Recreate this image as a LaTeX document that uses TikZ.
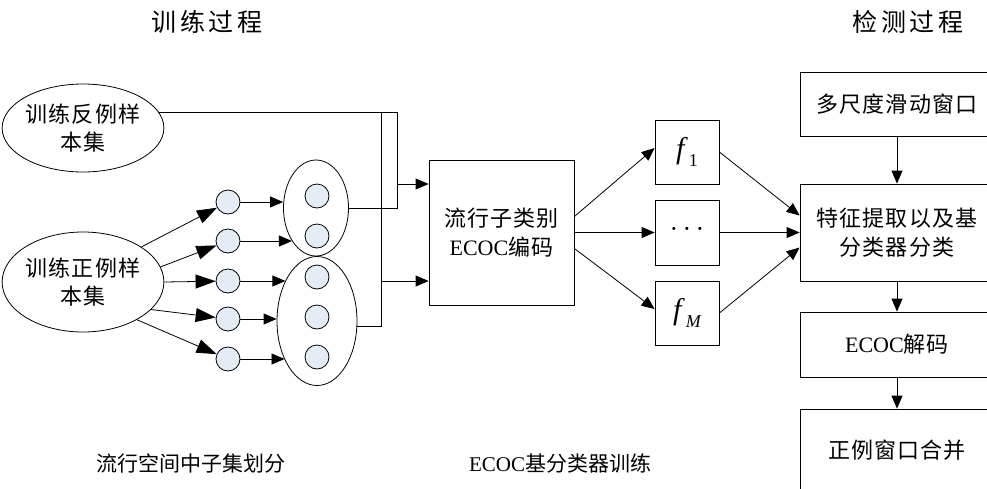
\documentclass[tikz,border=0pt]{standalone}
\usepackage{fontspec}
\setmainfont{Liberation Serif}
\newfontfamily\cjk{Noto Sans CJK SC}[LetterSpace=5]
\newfontfamily\cjktitle{Noto Sans CJK SC}[LetterSpace=15]
\newfontfamily\cjkplain{Noto Sans CJK SC}
\usetikzlibrary{shapes.geometric,arrows.meta,calc}

\tikzset{
  every node/.style={inner sep=0pt, align=center},
  lw/.style={line width=0.8pt},
  arr/.style={lw, -{Triangle[length=13pt,width=11pt]}},
  bigarr/.style={lw, -{Triangle[length=20pt,width=14pt]}},
  setnode/.style={draw, lw, ellipse, font=\cjk\fontsize{22}{28}\selectfont},
  dot/.style={draw, lw, circle, minimum size=24pt, fill=dotfill},
  grp/.style={draw, lw, ellipse},
  blk/.style={draw, lw, rectangle, font=\cjk\fontsize{22}{29}\selectfont},
  fbox/.style={draw, lw, rectangle, minimum width=64pt, font=\rmfamily\fontsize{30}{32}\selectfont},
  title/.style={font=\cjktitle\fontsize{25}{28}\selectfont},
  caption/.style={font=\cjkplain\fontsize{21}{26}\selectfont},
}
\definecolor{dotfill}{HTML}{E6ECF6}
% italic classifier name with subscript
\newcommand{\clsname}[1]{\textit{f}\kern1pt\raisebox{-0.28em}{\fontsize{18}{20}\selectfont #1}}

\begin{document}
\begin{tikzpicture}[x=1pt, y=-1pt]
\useasboundingbox (0,0) rectangle (987,488);
\clip (0,0) rectangle (987,488);

% titles and captions
\node[title] (t1) at (207,22) {训练过程};
\node[title] (t2) at (908,22) {检测过程};
\node[caption] (cap1) at (191,463) {流行空间中子集划分};
\node[caption] (cap2) at (560,463) {{\rmfamily ECOC}基分类器训练};

% training sample sets
\node[setnode, minimum width=145pt, minimum height=88pt] (neg) at (83,128) {训练反例样\\本集};
\node[setnode, minimum width=145pt, minimum height=100pt] (pos) at (83,282) {训练正例样\\本集};

% subsets of the positive samples
\foreach \i/\y in {1/202,2/241,3/281,4/319,5/359}
  \node[dot] (c\i) at (228,\y) {};

% grouped subsets
\node[grp, minimum width=65pt, minimum height=96pt] (g1) at (316,208) {};
\node[dot] (a1) at (317,196) {};
\node[dot] (a2) at (317,236) {};
\node[grp, minimum width=80pt, minimum height=129pt] (g2) at (317,321) {};
\node[dot] (b1) at (317,277) {};
\node[dot] (b2) at (317,317) {};
\node[dot] (b3) at (317,357) {};

% ECOC coding and base classifiers
\node[blk, minimum width=145pt, minimum height=145pt] (ecoc) at (501.5,232.5) {流行子类别\\{\rmfamily ECOC}编码};
\node[fbox, minimum height=64pt] (f1) at (687,152) {\clsname{1}};
\node[fbox, minimum height=65pt] (fd) at (687,232.5) {\fontsize{26}{28}\selectfont ·\,·\,·};
\node[fbox, minimum height=64pt] (fM) at (687,313) {\clsname{\itshape M}};

% detection pipeline
\node[blk, minimum width=194pt, minimum height=64pt] (win) at (897,104) {多尺度滑动窗口};
\node[blk, minimum width=194pt, minimum height=97pt] (feat) at (897,232.5) {特征提取以及基\\分类器分类};
\node[blk, minimum width=194pt, minimum height=65pt] (dec) at (897,344.5) {{\rmfamily ECOC}解码};
\node[blk, minimum width=194pt, minimum height=82pt] (merge) at (897,450) {正例窗口合并};

% positive set split into subsets
\draw[bigarr] (pos.31) -- (c1);
\draw[bigarr] (pos.11) -- (c2);
\draw[bigarr] (pos.east) -- (c3);
\draw[bigarr] (pos.-22) -- (c4);
\draw[bigarr] (pos.-35) -- (c5);

% subsets into groups
\draw[arr] (c1.east) -- (c1 -| g1.west);
\draw[arr] (c2.east) -- (c2 -| g1.234);
\draw[arr] (c3.east) -- (c3 -| g2.128);
\draw[arr] (c4.east) -- (c4 -| g2.west);
\draw[arr] (c5.east) -- (c5 -| g2.230);

% merging lines into the ECOC block
\coordinate (jA) at (397,208);
\coordinate (jB) at (381,113);
\coordinate (jC) at (397,184);
\coordinate (jD) at (381,281);
\draw[lw] (neg.12) -| (jA) -- (g1.east);
\draw[lw] (g2.-8) -| (jB);
\draw[arr] (jC) -- (jC -| ecoc.west);
\draw[arr] (jD) -- (jD -| ecoc.west);

% ECOC block to base classifiers
\draw[arr] ([yshift=16pt]ecoc.east) -- ([yshift=4pt]f1.west);
\draw[arr] (ecoc.east) -- (fd.west);
\draw[arr] ([yshift=-16pt]ecoc.east) -- ([yshift=4pt]fM.west);

% base classifiers to detection
\draw[arr] (f1.east) -- ([yshift=17pt]feat.west);
\draw[arr] (fd.east) -- (feat.west);
\draw[arr] (fM.east) -- ([yshift=-15pt]feat.west);

% detection pipeline arrows
\draw[arr] (win) -- (feat);
\draw[arr] (feat) -- (dec);
\draw[arr] (dec) -- (merge);
\end{tikzpicture}
\end{document}
